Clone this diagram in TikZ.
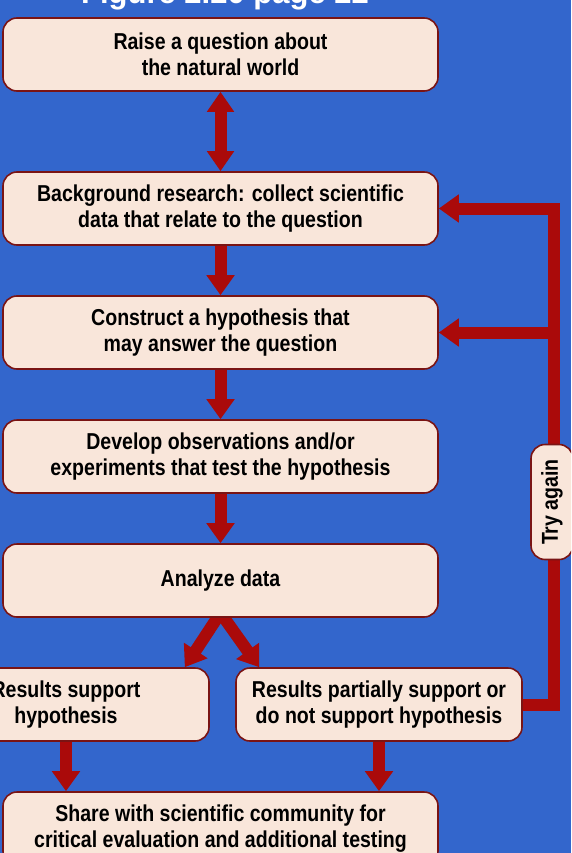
\documentclass[tikz,border=0pt]{standalone}
\usepackage{fontspec}
\setmainfont{Liberation Sans}
\newfontfamily\condf{Liberation Sans}[FakeStretch=0.85]
\usetikzlibrary{arrows.meta,calc}
\pgfdeclarelayer{bg}
\pgfsetlayers{bg,main}
\definecolor{bgblue}{HTML}{3366CC}
\definecolor{boxfill}{HTML}{F9E6DA}
\definecolor{boxline}{HTML}{7A1414}
\definecolor{arrred}{HTML}{AA0A0A}
\begin{document}
\begin{tikzpicture}[x=1pt,y=-1pt,
  stepbox/.style={draw=boxline, line width=1.6pt, fill=boxfill, rounded corners=14pt,
    minimum width=435pt, minimum height=73pt, align=center, inner sep=0pt,
    font=\condf\bfseries\fontsize{23}{26}\selectfont},
  halfbox/.style={stepbox, minimum width=286pt},
  fat/.style={draw=arrred, line width=12pt, line join=miter,
    -{Triangle[width=27pt,length=20pt]}},
  fatboth/.style={draw=arrred, line width=12pt,
    {Triangle[width=26pt,length=20pt]}-{Triangle[width=26pt,length=20pt]}},
  fatline/.style={draw=arrred, line width=12pt, line join=miter}
]
\useasboundingbox (0,0) rectangle (571,853);
\clip (0,0) rectangle (571,853);
\begin{pgfonlayer}{bg}
\fill[bgblue] (0,0) rectangle (571,853);
\end{pgfonlayer}

\node[text=white, font=\bfseries\fontsize{31}{31}\selectfont, anchor=base] (title) at (225,4) {Figure 2.20 page 22};

\node[stepbox] (b1) at (220.5,54.5) {Raise a question about\\the natural world};
\node[stepbox] (b2) at (220.5,208.5) {Background research: collect scientific\\data that relate to the question};
\node[stepbox] (b3) at (220.5,332.5) {Construct a hypothesis that\\may answer the question};
\node[stepbox] (b4) at (220.5,456.5) {Develop observations and/or\\experiments that test the hypothesis};
\node[stepbox] (b5) at (220.5,580.5) {Analyze data};
\node[halfbox] (b6) at (66,704.5) {Results support\\hypothesis};
\node[halfbox] (b7) at (379,704.5) {Results partially support or\\do not support hypothesis};
\node[stepbox] (b8) at (220.5,828.5) {Share with scientific community for\\critical evaluation and additional testing};

\coordinate (cbr) at (554,704.5);
\coordinate (ctr) at (554,208.5);
\coordinate (cmid) at (554,332.5);

\begin{pgfonlayer}{bg}
\draw[fatboth] (b1.south) -- (b2.north);
\draw[fat] (b2.south) -- (b3.north);
\draw[fat] (b3.south) -- (b4.north);
\draw[fat] (b4.south) -- (b5.north);
\draw[fat] ($(b5.south)+(0,-5)$) -- ($(b6.north east)+(-25,0)$);
\draw[fat] ($(b5.south)+(0,-5)$) -- ($(b7.north west)+(24,0)$);
\draw[fat] (b6.south) -- (b6.south |- b8.north);
\draw[fat] (b7.south) -- (b7.south |- b8.north);
\draw[fat] (b7.east) -- (cbr) -- (ctr) -- (b2.east);
\draw[fat] (cmid) -- (b3.east);
\end{pgfonlayer}

\node[stepbox, minimum width=115pt, minimum height=42pt, rotate=90] (try) at (552,502) {Try again};
\end{tikzpicture}
\end{document}
